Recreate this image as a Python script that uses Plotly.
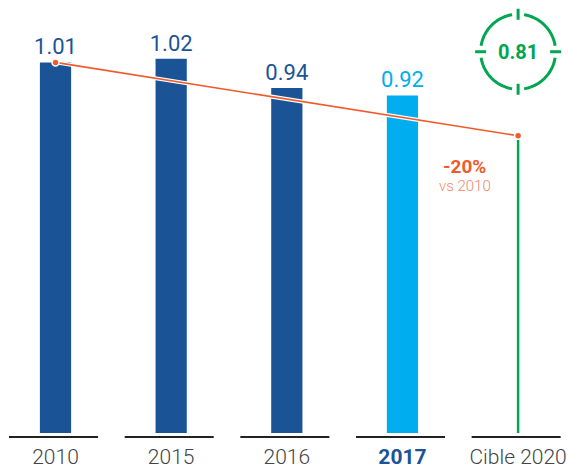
import math
import plotly.graph_objects as go

categories = ["2010", "2015", "2016", "2017", "Cible 2020"]
tick_labels = ["2010", "2015", "2016", "<b style='color:#1A5496'>2017</b>", "Cible 2020"]
bar_categories = ["2010", "2015", "2016", "2017"]
bar_values = [1.01, 1.02, 0.94, 0.92]
bar_labels = ["1.01", "1.02", "0.94", "0.92"]
target_value = 0.81
target_label = "0.81"
trend_x = ["2010", "Cible 2020"]
trend_y = [1.01, 0.81]

DARK = "#1A5496"
CYAN = "#00AEEF"
GREEN = "#00A651"
ORANGE = "#F15A2B"
FONT = "Roboto"

fig = go.Figure()
fig.add_trace(go.Bar(
    x=bar_categories, y=bar_values, width=0.27,
    marker=dict(color=[DARK, DARK, DARK, CYAN], line=dict(width=0)),
    text=bar_labels, textposition="outside", cliponaxis=False, constraintext="none",
    textfont=dict(family=FONT, size=22, color=[DARK, DARK, DARK, CYAN]),
    hoverinfo="skip",
))
fig.add_trace(go.Scatter(
    x=["Cible 2020", "Cible 2020"], y=[0, target_value], mode="lines",
    line=dict(color=GREEN, width=2.5), hoverinfo="skip",
))
fig.add_trace(go.Scatter(
    x=trend_x, y=trend_y, mode="lines",
    line=dict(color="white", width=4), hoverinfo="skip",
))
fig.add_trace(go.Scatter(
    x=trend_x, y=trend_y, mode="lines+markers",
    line=dict(color=ORANGE, width=1.6),
    marker=dict(color=ORANGE, size=7, line=dict(color="white", width=1.5)),
    hoverinfo="skip",
))

shapes = []
for i in range(len(categories)):
    shapes.append(dict(type="line", xref="x", yref="paper", x0=i - 0.402, x1=i + 0.368,
                       y0=-0.0092, y1=-0.0092, line=dict(color="#222222", width=2)))

# target icon, in pixels around an anchor
r = 37.5
gap = math.degrees(math.asin(6 / r))
for k in range(4):
    start = 90 * k + gap
    end = 90 * (k + 1) - gap
    pts = [(r * math.cos(math.radians(start + (end - start) * t / 24)),
            r * math.sin(math.radians(start + (end - start) * t / 24))) for t in range(25)]
    path = "M " + " L ".join(f"{a:.2f},{b:.2f}" for a, b in pts)
    shapes.append(dict(type="path", xref="x", yref="y", xsizemode="pixel", ysizemode="pixel",
                       xanchor=4, yanchor=1.039, path=path, line=dict(color=GREEN, width=3)))
for a0, b0, a1, b1 in [(32, 0, 43, 0), (-32, 0, -43, 0), (0, 32, 0, 43), (0, -32, 0, -43)]:
    shapes.append(dict(type="line", xref="x", yref="y", xsizemode="pixel", ysizemode="pixel",
                       xanchor=4, yanchor=1.039, x0=a0, y0=b0, x1=a1, y1=b1,
                       line=dict(color=GREEN, width=3)))

annotations = [
    dict(x=4, y=1.039, text=f"<b>{target_label}</b>", showarrow=False,
         font=dict(family=FONT, size=20, color=GREEN)),
    dict(x=3.54, y=0.7275, xref="x", yref="y", text="<b>-20%</b>", showarrow=False,
         font=dict(family=FONT, size=19, color=ORANGE)),
    dict(x=3.54, y=0.673, xref="x", yref="y", text="vs 2010", showarrow=False,
         font=dict(family=FONT, size=15, weight=300, color="#F4866A")),
]

fig.update_layout(
    width=569, height=470, margin=dict(l=0, r=0, t=0, b=37),
    paper_bgcolor="white", plot_bgcolor="white", showlegend=False,
    xaxis=dict(type="category", categoryorder="array", categoryarray=categories,
               range=[-0.48, 4.44], tickmode="array", tickvals=categories, ticktext=tick_labels,
               showgrid=False, zeroline=False, showline=False,
               ticks="outside", ticklen=5, tickcolor="rgba(0,0,0,0)",
               tickfont=dict(family=FONT, size=21, weight=300, color="#444444")),
    yaxis=dict(range=[0, 1.18], visible=False),
    shapes=shapes, annotations=annotations,
)
fig.write_html("out.html", config=dict(displayModeBar=False),
               post_script="document.body.style.margin='0';document.body.style.overflow='hidden';")
